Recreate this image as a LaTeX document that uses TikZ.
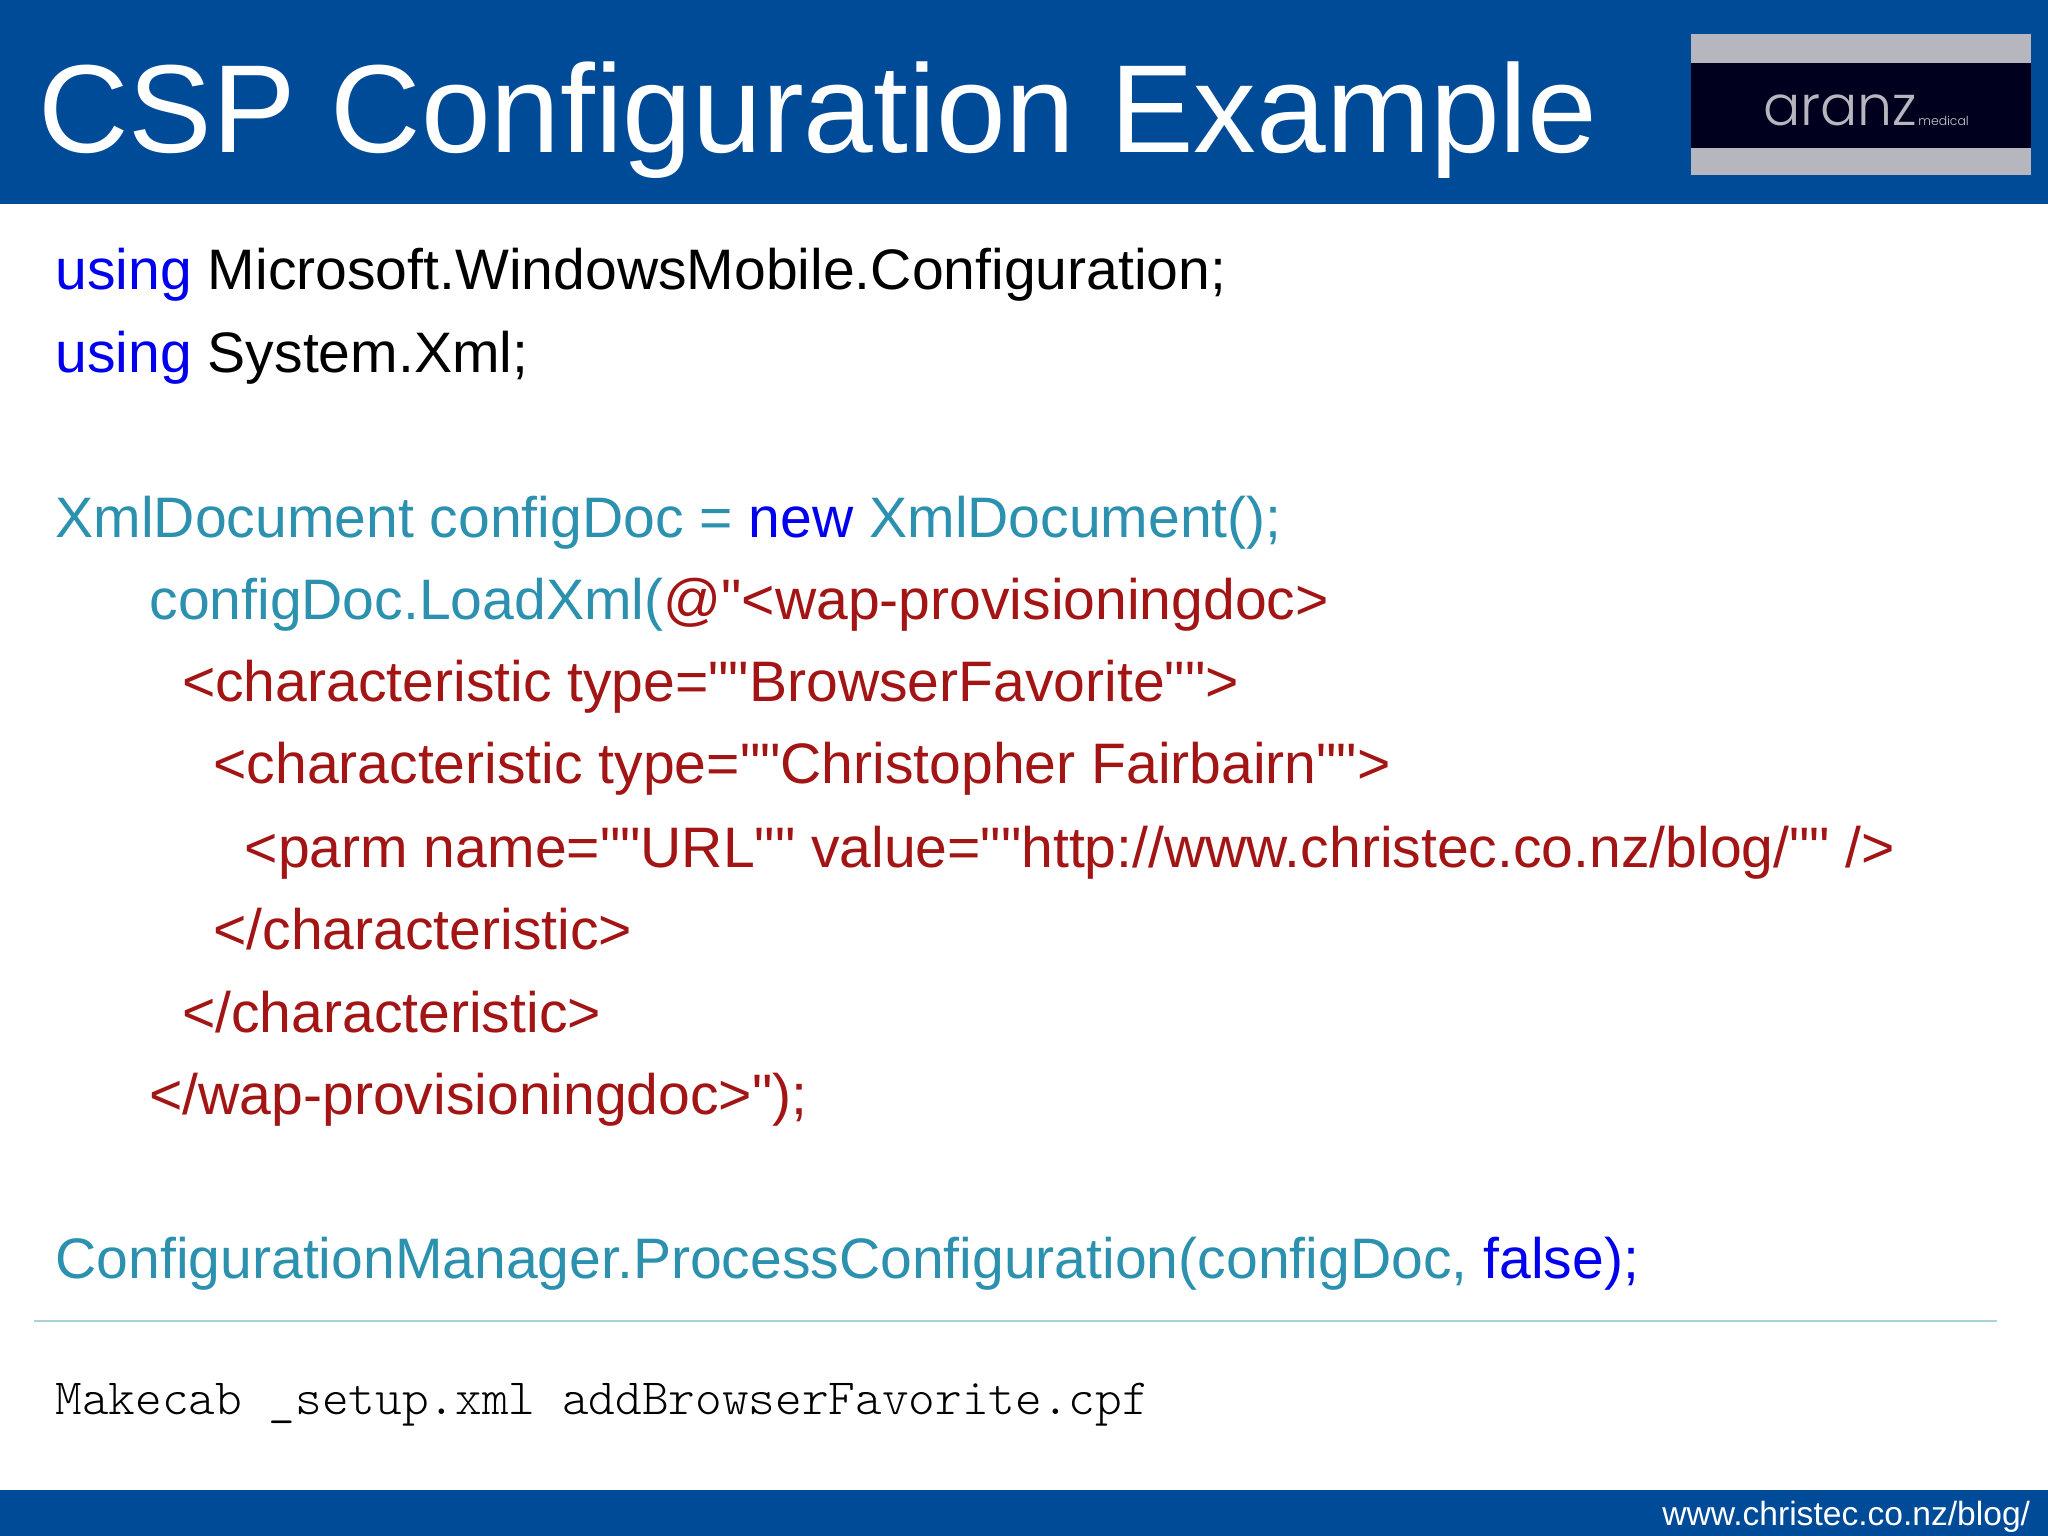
\documentclass[tikz,border=0pt]{standalone}
\usepackage{fontspec}
\setmainfont[Ligatures=TeXOff]{Liberation Sans}
\newfontfamily\logofont{Poppins Light}
\newfontfamily\shellfont{Latin Modern Mono Light}
\usetikzlibrary{positioning}
\definecolor{barblue}{HTML}{004B98}
\definecolor{kwblue}{HTML}{0000EE}
\definecolor{typeteal}{HTML}{2B91AF}
\definecolor{strred}{HTML}{A31515}
\definecolor{logodark}{HTML}{00001E}
\definecolor{logogrey}{HTML}{B6B6BE}
\definecolor{rulecol}{HTML}{A9D3DA}
\newcommand{\kw}[1]{\textcolor{kwblue}{#1}}
\newcommand{\str}[1]{\textcolor{strred}{#1}}
\tikzset{
  codeline/.style={anchor=base west,inner sep=0pt,font=\fontsize{21.15}{25}\selectfont},
  typeline/.style={codeline,text=typeteal},
  strline/.style={codeline,text=strred}
}
\begin{document}
\begin{tikzpicture}
\useasboundingbox (0,0) rectangle (26.667,20);
\fill[white] (0,0) rectangle (26.667,20);
\fill[barblue] (0,17.347) rectangle (26.667,20);
\fill[barblue] (0,0) rectangle (26.667,0.599);
\draw[rulecol,line width=0.6pt] (0.443,2.80) -- (26.0,2.80);
% logo
\fill[logogrey] (22.018,17.72) rectangle (26.445,19.557);
\fill[logodark] (22.018,18.073) rectangle (26.445,19.18);
\node[anchor=base west,inner sep=0pt,text=logogrey,font=\logofont\fontsize{20.5}{24}\selectfont] (logotext) at (22.95,18.37) {aranz};
\node[anchor=base west,inner sep=0pt,text=logogrey!70,font=\logofont\fontsize{4.6}{6}\selectfont] (logosub) at (logotext.base east) {medical};
% title
\node[anchor=base west,inner sep=0pt,text=white,font=\fontsize{46.4}{52}\selectfont] (title) at (0.493,18.02) {CSP Configuration Example};
% code
\node[codeline] (using1) at (0.716,16.225) {\kw{using} Microsoft.WindowsMobile.Configuration;};
\node[codeline] (using2) at (0.716,15.15) {\kw{using} System.Xml;};
\node[typeline] (doc) at (0.716,13.007) {XmlDocument configDoc = \kw{new} XmlDocument();};
\node[typeline] (load) at (1.939,11.936) {configDoc.LoadXml(\str{@"<wap-provisioningdoc>}};
\node[strline] (char1) at (2.364,10.864) {<characteristic type=""BrowserFavorite"">};
\node[strline] (char2) at (2.772,9.793) {<characteristic type=""Christopher Fairbairn"">};
\node[strline] (parm) at (3.180,8.704) {<parm name=""URL"" value=""http://www.christec.co.nz/blog/"" />};
\node[strline] (end2) at (2.772,7.633) {</characteristic>};
\node[strline] (end1) at (2.364,6.561) {</characteristic>};
\node[strline] (endwap) at (1.939,5.490) {</wap-provisioningdoc>");};
\node[typeline] (process) at (0.716,3.347) {ConfigurationManager.ProcessConfiguration(configDoc, \kw{false);}};
\node[anchor=base west,inner sep=0pt,text=black,font=\shellfont\fontsize{18.82}{23}\selectfont] (makecab) at (0.716,1.582) {Makecab \_setup.xml addBrowserFavorite.cpf};
% footer
\node[anchor=base east,inner sep=0pt,text=white,font=\fontsize{12.44}{15}\selectfont] (url) at (26.44,0.136) {www.christec.co.nz/blog/};
\end{tikzpicture}
\end{document}
